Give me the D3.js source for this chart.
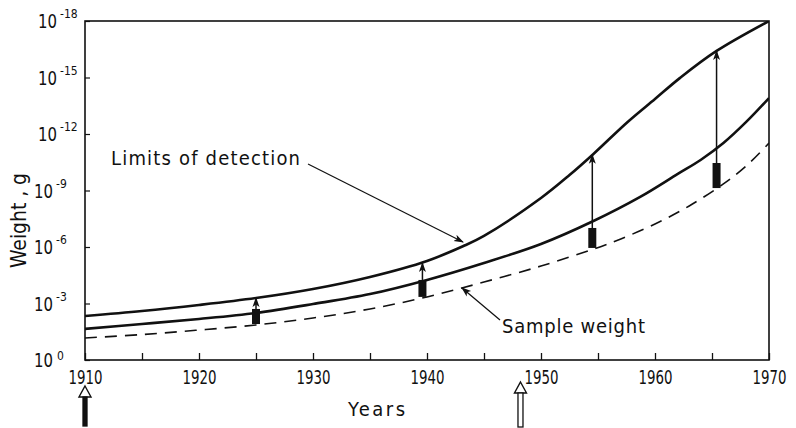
<!DOCTYPE html>
<html lang="en">
<head>
    <meta charset="UTF-8">
    <title>Weight vs Years</title>
    <style>
        body { margin: 0; background: #fff; }
        svg { display: block; }
        text { fill: #111; font-family: "DejaVu Sans Condensed", "DejaVu Sans", sans-serif; }
    </style>
    <script src="https://d3js.org/d3.v7.min.js"></script>
</head>
<body>
    <div id="chart"></div>
    <script>
        // values are -log10(weight in g)
        const detectYears = [1910, 1915, 1920, 1925, 1930, 1935, 1940, 1943.2, 1945, 1950, 1952.5, 1954.6, 1957.6, 1960, 1962.2, 1965.4, 1970];
        const detectLimit = [2.34, 2.60, 2.92, 3.29, 3.77, 4.41, 5.26, 6.05, 6.59, 8.60, 9.82, 10.94, 12.64, 13.86, 14.98, 16.41, 18.0];

        const measuredYears = [1910, 1915, 1920, 1925, 1930, 1935, 1940, 1945, 1950, 1954.6, 1958.7, 1962, 1964, 1966, 1968, 1970];
        const measuredWeight = [1.65, 1.91, 2.18, 2.50, 2.97, 3.50, 4.25, 5.15, 6.16, 7.38, 8.66, 9.88, 10.62, 11.52, 12.64, 13.91];

        const sampleYears = [1910, 1915, 1920, 1925, 1930, 1935, 1940, 1945, 1950, 1954.6, 1957, 1960, 1963, 1966, 1968, 1970];
        const sampleWeight = [1.17, 1.35, 1.59, 1.86, 2.23, 2.71, 3.35, 4.14, 4.99, 5.89, 6.43, 7.22, 8.18, 9.35, 10.30, 11.52];

        // bars between sample weight and measured weight, with arrow up to the detection limit
        const barYears = [1925, 1939.6, 1954.5, 1965.4];
        const barLow = [1.91, 3.35, 5.95, 9.13];
        const barHigh = [2.71, 4.25, 7.01, 10.46];
        const barTip = [3.29, 5.15, 10.9, 16.41];

        const yTicks = [0, 3, 6, 9, 12, 15, 18];
        const xTicks = d3.range(1910, 1971, 5);
        const markYears = [1910, 1948.2];

        const width = 796, height = 428;
        const x = d3.scaleLinear().domain([1910, 1970]).range([85, 769]);
        const y = d3.scaleLinear().domain([0, 18]).range([360, 21]);

        const svg = d3.select("#chart").append("svg")
            .attr("width", width).attr("height", height);

        const defs = svg.append("defs");
        defs.append("clipPath").attr("id", "plot")
            .append("rect")
            .attr("x", x(1910)).attr("y", y(18))
            .attr("width", x(1970) - x(1910)).attr("height", y(0) - y(18));
        defs.append("marker")
            .attr("id", "head")
            .attr("viewBox", "0 0 10 10")
            .attr("refX", 9).attr("refY", 5)
            .attr("markerWidth", 10).attr("markerHeight", 10)
            .attr("markerUnits", "userSpaceOnUse")
            .attr("orient", "auto")
            .append("path")
            .attr("d", "M0,1.5 L10,5 L0,8.5 L2.5,5 Z")
            .attr("fill", "#111");

        // frame
        svg.append("rect")
            .attr("x", x(1910)).attr("y", y(18))
            .attr("width", x(1970) - x(1910)).attr("height", y(0) - y(18))
            .attr("fill", "none").attr("stroke", "#111").attr("stroke-width", 1.6);

        // x axis (ticks inside)
        const xAxis = svg.append("g")
            .attr("transform", `translate(0,${y(0)})`)
            .call(d3.axisBottom(x).tickValues(xTicks).tickSizeInner(-7).tickSizeOuter(0)
                .tickFormat(d => d % 10 === 0 ? d : ""));
        xAxis.select(".domain").remove();
        xAxis.selectAll(".tick line").attr("stroke", "#111").attr("stroke-width", 1.3);
        xAxis.selectAll(".tick text")
            .attr("y", 24).attr("dy", 0)
            .attr("font-family", null)
            .attr("font-size", 20).attr("fill", "#111")
            .filter(d => d % 10 === 0)
            .attr("textLength", 34)
            .attr("lengthAdjust", "spacingAndGlyphs");

        // y axis ticks inside, labels as 10^n
        const yAxis = svg.append("g")
            .attr("transform", `translate(${x(1910)},0)`)
            .call(d3.axisLeft(y).tickValues(yTicks).tickSizeInner(-5).tickSizeOuter(0).tickFormat(""));
        yAxis.select(".domain").remove();
        yAxis.selectAll(".tick line").attr("stroke", "#111").attr("stroke-width", 1.2);

        const yl = svg.append("g").selectAll("g")
            .data(yTicks).enter().append("g")
            .attr("transform", d => `translate(0,${y(d)})`);
        yl.append("text")
            .attr("x", d => d >= 12 ? 57 : 53).attr("y", 7)
            .attr("text-anchor", "end")
            .attr("font-size", 20)
            .attr("textLength", 19)
            .attr("lengthAdjust", "spacingAndGlyphs")
            .text("10");
        yl.append("text")
            .attr("x", d => d === 0 ? 57 : (d >= 12 ? 60 : 56))
            .attr("y", d => d === 0 ? 0 : -3)
            .attr("font-size", 12)
            .text(d => d === 0 ? "0" : "-" + d);

        // curves
        const curves = svg.append("g").attr("clip-path", "url(#plot)");
        const line = d3.line().x(d => x(d[0])).y(d => y(d[1])).curve(d3.curveCatmullRom.alpha(0.5));

        curves.append("path")
            .datum(detectYears.map((t, i) => [t, detectLimit[i]]))
            .attr("d", line).attr("fill", "none")
            .attr("stroke", "#111").attr("stroke-width", 2.6);
        curves.append("path")
            .datum(measuredYears.map((t, i) => [t, measuredWeight[i]]))
            .attr("d", line).attr("fill", "none")
            .attr("stroke", "#111").attr("stroke-width", 2.6);
        curves.append("path")
            .datum(sampleYears.map((t, i) => [t, sampleWeight[i]]))
            .attr("d", line).attr("fill", "none")
            .attr("stroke", "#111").attr("stroke-width", 1.6)
            .attr("stroke-dasharray", "12,8");

        // bars and arrows
        const bars = svg.append("g").selectAll("g")
            .data(barYears).enter().append("g");
        bars.append("rect")
            .attr("x", d => x(d) - 4)
            .attr("y", (d, i) => y(barHigh[i]))
            .attr("width", 8)
            .attr("height", (d, i) => y(barLow[i]) - y(barHigh[i]))
            .attr("fill", "#111");
        bars.append("line")
            .attr("x1", d => x(d)).attr("x2", d => x(d))
            .attr("y1", (d, i) => y(barHigh[i]))
            .attr("y2", (d, i) => y(barTip[i]))
            .attr("stroke", "#111").attr("stroke-width", 1.5)
            .attr("marker-end", "url(#head)");

        // annotations
        svg.append("text")
            .attr("x", 111).attr("y", 165).attr("font-size", 20)
            .attr("textLength", 189).attr("lengthAdjust", "spacing")
            .text("Limits of detection");
        svg.append("line")
            .attr("x1", 308).attr("y1", 164).attr("x2", 463).attr("y2", 242)
            .attr("stroke", "#111").attr("stroke-width", 1.2)
            .attr("marker-end", "url(#head)");

        svg.append("text")
            .attr("x", 502).attr("y", 333).attr("font-size", 20)
            .attr("textLength", 143).attr("lengthAdjust", "spacing")
            .text("Sample weight");
        svg.append("line")
            .attr("x1", 500).attr("y1", 320).attr("x2", 462).attr("y2", 288)
            .attr("stroke", "#111").attr("stroke-width", 1.2)
            .attr("marker-end", "url(#head)");

        // axis titles
        svg.append("text")
            .attr("x", 348).attr("y", 416)
            .attr("font-size", 20)
            .attr("textLength", 57).attr("lengthAdjust", "spacing")
            .text("Years");
        svg.append("text")
            .attr("transform", "translate(26,268) rotate(-90)")
            .attr("font-size", 21)
            .attr("textLength", 95).attr("lengthAdjust", "spacing")
            .text("Weight , g");

        // upward arrows under the time axis
        const marks = svg.append("g").selectAll("g")
            .data(markYears).enter().append("g")
            .attr("transform", d => `translate(${x(d)},0)`);
        marks.append("path")
            .attr("d", (d, i) => i === 0
                ? "M0,386 L6,397 L-6,397 Z"
                : "M0,382 L6,393 L-6,393 Z")
            .attr("fill", "#fff").attr("stroke", "#111").attr("stroke-width", 1.4);
        marks.append("rect")
            .attr("x", (d, i) => i === 0 ? -2 : -2.5)
            .attr("y", (d, i) => i === 0 ? 397 : 393)
            .attr("width", (d, i) => i === 0 ? 4 : 5)
            .attr("height", (d, i) => i === 0 ? 29 : 34)
            .attr("fill", (d, i) => i === 0 ? "#111" : "#fff")
            .attr("stroke", "#111").attr("stroke-width", 1.3);
    </script>
</body>
</html>
